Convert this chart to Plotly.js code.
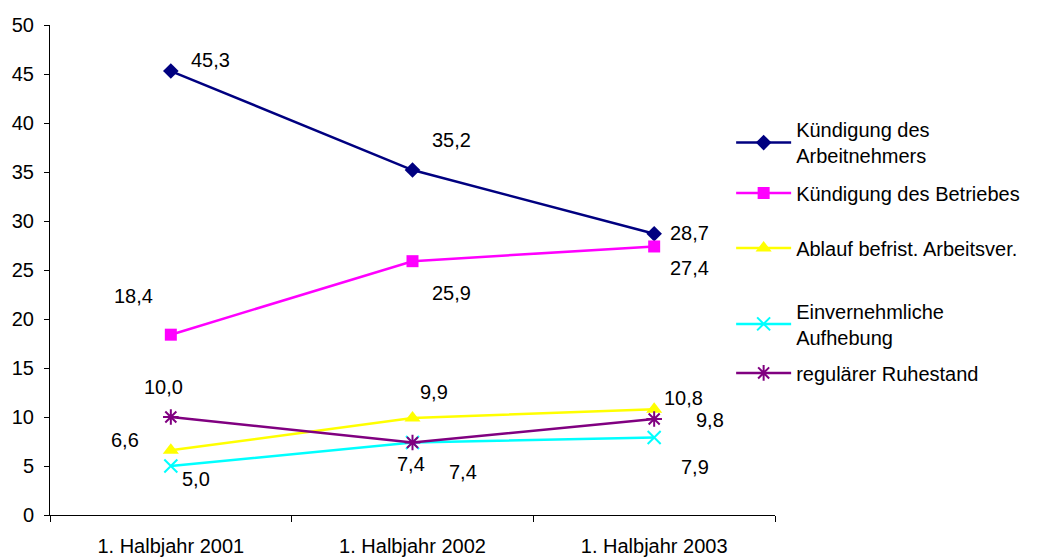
<!DOCTYPE html>
<html>
<head>
<meta charset="utf-8">
<script src="https://cdn.plot.ly/plotly-3.0.1.min.js"></script>
<style>html,body{margin:0;padding:0;background:#fff;}#chart{width:1037px;height:557px;}</style>
</head>
<body>
<div id="chart"></div>
<script>
const categories = ["1. Halbjahr 2001", "1. Halbjahr 2002", "1. Halbjahr 2003"];
const seriesNames = ["Kündigung des<br>Arbeitnehmers", "Kündigung des Betriebes", "Ablauf befrist. Arbeitsver.", "Einvernehmliche<br>Aufhebung", "regulärer Ruhestand"];
const kuendigungArbeitnehmer = [45.3, 35.2, 28.7];
const kuendigungBetrieb = [18.4, 25.9, 27.4];
const ablaufBefristet = [6.6, 9.9, 10.8];
const einvernehmlich = [5.0, 7.4, 7.9];
const ruhestand = [10.0, 7.4, 9.8];
const yTicks = [0, 5, 10, 15, 20, 25, 30, 35, 40, 45, 50];

const allSeries = [kuendigungArbeitnehmer, kuendigungBetrieb, ablaufBefristet, einvernehmlich, ruhestand];

// styles
const colors = ["#000080", "#FF00FF", "#FFFF00", "#00FFFF", "#800080"];
const symbols = ["diamond", "square", "triangle-up", "x-thin-open", "asterisk-open"];
const markerSizes = [12, 12, 14, 13, 13];
// label offsets in px [dx, dy(down)] per series per point
const labelOffsets = [
  [[40, -11], [39, -30], [35, -1]],
  [[-37, -39], [39, 32], [35, 22]],
  [[-46, -10], [21, -26], [29, -11]],
  [[25, 13], [50, 30], [41, 29]],
  [[-7, -30], [-2, 22], [56, 1]]
];
// legend item vertical centres in paper units
const legendY = [0.76, 0.657, 0.545, 0.39, 0.29];

const FONT = "Liberation Sans, Arial, sans-serif";
const FS = 20;

const xIdx = categories.map((c, i) => i);

const traces = allSeries.map((vals, s) => ({
  type: "scatter",
  mode: "lines+markers",
  x: categories,
  y: vals,
  name: seriesNames[s],
  legend: s === 0 ? "legend" : "legend" + (s + 1),
  line: {color: colors[s], width: 2.5},
  marker: {symbol: symbols[s], size: markerSizes[s], color: colors[s], line: {color: colors[s], width: (s >= 3 ? 2 : 0)}},
  cliponaxis: false,
  hoverinfo: "skip"
}));

const fmt = v => v.toFixed(1).replace(".", ",");
const annotations = [];
allSeries.forEach((vals, s) => {
  vals.forEach((v, i) => {
    annotations.push({
      x: categories[i], y: v, xref: "x", yref: "y",
      text: fmt(v), showarrow: false,
      xshift: labelOffsets[s][i][0], yshift: -labelOffsets[s][i][1],
      font: {family: FONT, size: FS, color: "#000"}
    });
  });
});

const layout = {
  width: 1037, height: 557,
  margin: {l: 50, r: 262, t: 25, b: 42},
  paper_bgcolor: "#fff", plot_bgcolor: "#fff",
  font: {family: FONT, size: FS, color: "#000"},
  xaxis: {
    type: "category",
    categoryarray: categories,
    range: [-0.5, 2.5],
    showgrid: false, zeroline: false,
    showline: true, linecolor: "#000", linewidth: 1,
    ticks: "outside", ticklen: 6, tickcolor: "#000",
    tickson: "boundaries",
    ticklabelstandoff: 13,
    tickfont: {family: FONT, size: FS}
  },
  yaxis: {
    range: [0, 50], tickvals: yTicks,
    showgrid: false, zeroline: false,
    showline: true, linecolor: "#000", linewidth: 1,
    ticks: "outside", ticklen: 5, tickcolor: "#000",
    ticklabelstandoff: 6,
    tickfont: {family: FONT, size: FS}
  },
  annotations: annotations,
  showlegend: true
};
legendY.forEach((yy, s) => {
  const key = s === 0 ? "legend" : "legend" + (s + 1);
  layout[key] = {
    x: 0.9395, xanchor: "left", y: yy, yanchor: "middle",
    xref: "paper", yref: "paper",
    bgcolor: "rgba(0,0,0,0)", borderwidth: 0,
    font: {family: FONT, size: FS, color: "#000"},
    itemwidth: 55
  };
});

Plotly.newPlot("chart", traces, layout, {staticPlot: true});
</script>
</body>
</html>
